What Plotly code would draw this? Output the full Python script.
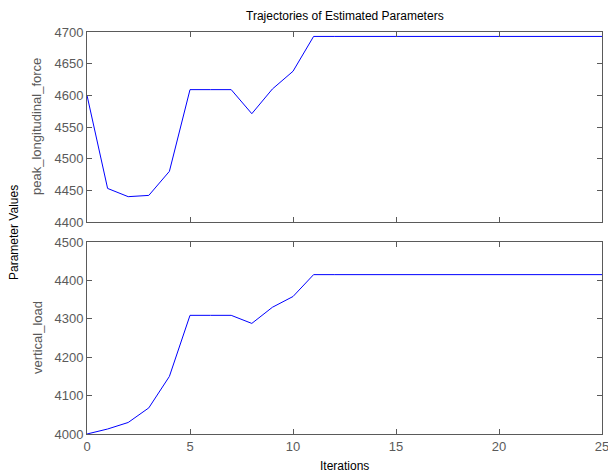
import plotly.graph_objects as go

iterations = list(range(0, 26))
peak_longitudinal_force = [4600, 4453, 4440, 4442, 4480, 4609, 4609, 4609, 4571, 4610, 4638, 4693] + [4693] * 14
vertical_load = [4000, 4013, 4030, 4068, 4150, 4309, 4309, 4309, 4288, 4330, 4358, 4415] + [4415] * 14
x_ticks = [0, 5, 10, 15, 20, 25]

W, H = 608, 474
L, R, T, B = 87, 6, 32, 40
ph = H - T - B

def yd(top_px, bot_px):
    return [1 - (bot_px - T) / ph, 1 - (top_px - T) / ph]

fig = go.Figure()
fig.add_trace(go.Scatter(x=iterations, y=peak_longitudinal_force, mode="lines",
                         line=dict(color="#0000ff", width=1), xaxis="x", yaxis="y", showlegend=False))
fig.add_trace(go.Scatter(x=iterations, y=vertical_load, mode="lines",
                         line=dict(color="#0000ff", width=1), xaxis="x2", yaxis="y2", showlegend=False))

axcommon = dict(showline=True, linecolor="#5a5a5a", linewidth=1, mirror="ticks", ticks="inside",
                ticklen=5, tickcolor="#5a5a5a", showgrid=False, zeroline=False,
                ticklabeloverflow="allow", automargin=False,
                tickfont=dict(family="Liberation Sans, Arial", size=13, color="#5a5a5a"))

xr = [0, 25]
fig.update_layout(
    width=W, height=H,
    margin=dict(l=L, r=R, t=T, b=B, autoexpand=False),
    plot_bgcolor="white", paper_bgcolor="white",
    xaxis=dict(domain=[0, 1], anchor="y", range=xr, tickmode="array", tickvals=x_ticks,
               showticklabels=False, **axcommon),
    yaxis=dict(domain=yd(32, 222), anchor="x", range=[4400, 4700], dtick=50, **axcommon),
    xaxis2=dict(domain=[0, 1], anchor="y2", range=xr, tickmode="array", tickvals=x_ticks, **axcommon),
    yaxis2=dict(domain=yd(242, 434), anchor="x2", range=[4000, 4500], dtick=100, **axcommon),
    annotations=[
        dict(text="Trajectories of Estimated Parameters", xref="paper", yref="paper", x=0.5, y=1,
             yshift=16, xanchor="center", yanchor="middle", showarrow=False,
             font=dict(family="Liberation Sans, Arial", size=12, color="black")),
        dict(text="Iterations", xref="paper", yref="paper", x=0.5, y=0, yshift=-32,
             xanchor="center", yanchor="middle", showarrow=False,
             font=dict(family="Liberation Sans, Arial", size=12, color="black")),
        dict(text="Parameter Values", xref="paper", yref="paper", x=0, xshift=-(L - 14), y=1 - (233 - T) / ph,
             xanchor="center", yanchor="middle", textangle=-90, showarrow=False,
             font=dict(family="Liberation Sans, Arial", size=12, color="black")),
        dict(text="peak_longitudinal_force", xref="paper", yref="paper", x=0, xshift=-(L - 37),
             y=1 - (127 - T) / ph, xanchor="center", yanchor="middle", textangle=-90, showarrow=False,
             font=dict(family="Liberation Sans, Arial", size=13, color="#5a5a5a")),
        dict(text="vertical_load", xref="paper", yref="paper", x=0, xshift=-(L - 37),
             y=1 - (338 - T) / ph, xanchor="center", yanchor="middle", textangle=-90, showarrow=False,
             font=dict(family="Liberation Sans, Arial", size=13, color="#5a5a5a")),
    ],
)

fig.write_html("out.html")
